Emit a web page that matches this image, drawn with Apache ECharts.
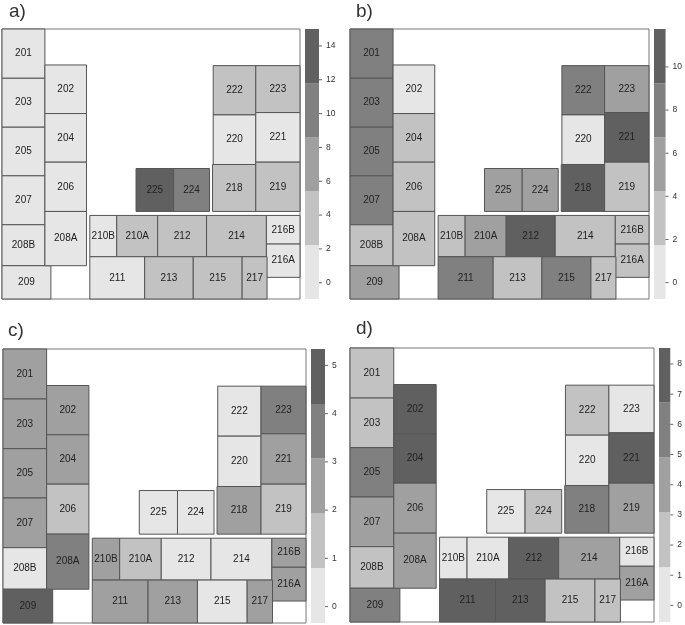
<!DOCTYPE html>
<html>
<head>
<meta charset="utf-8">
<style>
  html, body { margin: 0; padding: 0; background: #fff; }
  #myChart { width: 685px; height: 625px; }
</style>
<script src="https://cdn.jsdelivr.net/npm/echarts@6/dist/echarts.min.js"></script>
</head>
<body>
<div id="myChart"></div>
<script>
// room names and their footprints on the floor plan [x0, y0, x1, y1]
const roomNames = ['201', '203', '205', '207', '208B', '209', '202', '204', '206', '208A',
  '222', '223', '220', '221', '218', '219', '225', '224',
  '210B', '210A', '212', '214', '216B', '216A', '211', '213', '215', '217']
const roomFootprints = [
  [0, 0, 129, 148], [0, 148, 129, 295], [0, 295, 129, 441], [0, 441, 129, 588],
  [0, 588, 129, 711], [0, 711, 147, 811], [129, 108, 254, 254], [129, 254, 254, 400],
  [129, 400, 254, 548], [129, 548, 254, 711],
  [635, 110, 763, 258], [763, 110, 896, 251], [635, 258, 763, 407], [763, 251, 896, 400],
  [633, 407, 763, 548], [763, 400, 896, 548], [403, 419, 516, 548], [516, 419, 624, 548],
  [264, 560, 345, 684], [345, 560, 468, 684], [468, 560, 615, 684], [615, 560, 795, 684],
  [795, 560, 896, 646], [795, 646, 896, 746],
  [264, 684, 429, 811], [429, 684, 575, 811], [575, 684, 722, 811], [722, 684, 797, 811]
]
const planWidth = 896
const planHeight = 811

const panelNames = ['a)', 'b)', 'c)', 'd)']
const valuesA = [1, 1, 1, 1, 1, 1, 1, 1, 1, 1, 4, 4, 1, 1, 4, 4, 14, 10, 1, 4, 4, 4, 1, 1, 1, 4, 4, 4]
const valuesB = [8, 8, 8, 8, 3, 6, 1, 3, 3, 3, 8, 6, 1, 10, 10, 3, 6, 6, 3, 6, 10, 3, 3, 3, 8, 3, 8, 3]
const valuesC = [2, 2, 2, 2, 0, 5, 2, 2, 1, 4, 0, 4, 0, 2, 2, 1, 0, 0, 2, 1, 0, 0, 2, 2, 2, 2, 0, 2]
const valuesD = [2, 2, 6, 4, 2, 6, 8, 8, 4, 4, 2, 1, 1, 8, 6, 4, 1, 2, 1, 1, 8, 4, 1, 4, 8, 8, 2, 2]
const panelValues = [valuesA, valuesB, valuesC, valuesD]

// colour key: class limits and tick labels for each panel
const breaksA = [-0.96, 2.23, 5.42, 8.61, 11.8, 15]
const breaksB = [-0.76, 1.74, 4.24, 6.74, 9.24, 11.76]
const breaksC = [-0.34, 0.8, 1.93, 3.07, 4.2, 5.34]
const breaksD = [-0.55, 1.27, 3.08, 4.9, 6.72, 8.53]
const panelBreaks = [breaksA, breaksB, breaksC, breaksD]
const ticksA = [0, 2, 4, 6, 8, 10, 12, 14]
const ticksB = [0, 2, 4, 6, 8, 10]
const ticksC = [0, 1, 2, 3, 4, 5]
const ticksD = [0, 1, 2, 3, 4, 5, 6, 7, 8]
const panelTicks = [ticksA, ticksB, ticksC, ticksD]
const greys = ['#e6e6e6', '#c2c2c2', '#a0a0a0', '#808080', '#606060']

// pixel boxes of the four panels
const planBoxes = [
  { left: 2, top: 29, width: 298, height: 270 },
  { left: 350, top: 29, width: 299, height: 270 },
  { left: 3, top: 349, width: 303, height: 274 },
  { left: 350, top: 348, width: 304, height: 274 }
]
const keyLefts = [305, 654, 311, 659]
const titleSpots = [[9, 2], [356, 2], [8, 321], [356, 319]]
const FONT = '"Liberation Sans", Arial, sans-serif'

function colorOf(value, breaks) {
  for (let i = 1; i < breaks.length; i++) {
    if (value <= breaks[i]) return greys[i - 1]
  }
  return greys[greys.length - 1]
}

const grid = []
const xAxis = []
const yAxis = []
const series = []
const title = []

panelNames.forEach(function (name, p) {
  const box = planBoxes[p]
  const breaks = panelBreaks[p]
  title.push({
    text: name,
    left: titleSpots[p][0],
    top: titleSpots[p][1],
    padding: 0,
    textStyle: { fontFamily: FONT, fontSize: 19, fontWeight: 'normal', color: '#333' }
  })

  // floor plan
  grid.push({ left: box.left, top: box.top, width: box.width, height: box.height, show: true, backgroundColor: '#fff', borderColor: '#777', borderWidth: 1 })
  xAxis.push({ type: 'value', gridIndex: p * 2, min: 0, max: planWidth, show: false })
  yAxis.push({ type: 'value', gridIndex: p * 2, min: 0, max: planHeight, inverse: true, show: false })
  series.push({
    type: 'custom',
    xAxisIndex: p * 2,
    yAxisIndex: p * 2,
    animation: false,
    silent: true,
    data: roomNames.map(function (room, i) {
      return roomFootprints[i].concat(panelValues[p][i])
    }),
    encode: { x: [0, 2], y: [1, 3] },
    renderItem: function (params, api) {
      const a = api.coord([api.value(0), api.value(1)])
      const b = api.coord([api.value(2), api.value(3)])
      return {
        type: 'group',
        children: [
          {
            type: 'rect',
            shape: { x: a[0], y: a[1], width: b[0] - a[0], height: b[1] - a[1] },
            style: { fill: colorOf(api.value(4), breaks), stroke: '#555', lineWidth: 1 }
          },
          {
            type: 'text',
            style: {
              x: (a[0] + b[0]) / 2,
              y: (a[1] + b[1]) / 2,
              text: roomNames[params.dataIndex],
              align: 'center',
              verticalAlign: 'middle',
              font: '10px ' + FONT,
              fill: '#222'
            }
          }
        ]
      }
    }
  })

  // colour key
  grid.push({ left: keyLefts[p], top: box.top, width: 14, height: box.height, show: false })
  xAxis.push({ type: 'value', gridIndex: p * 2 + 1, min: 0, max: 1, show: false })
  yAxis.push({
    type: 'value',
    gridIndex: p * 2 + 1,
    position: 'right',
    min: breaks[0],
    max: breaks[breaks.length - 1],
    splitLine: { show: false },
    axisLine: { show: false },
    axisTick: { show: false },
    axisLabel: { fontFamily: FONT, fontSize: 8.5, color: '#333', margin: 7, customValues: panelTicks[p] }
  })
  series.push({
    type: 'custom',
    xAxisIndex: p * 2 + 1,
    yAxisIndex: p * 2 + 1,
    animation: false,
    silent: true,
    data: greys.map(function (g, i) {
      return [breaks[i], breaks[i + 1], i]
    }),
    encode: { y: [0, 1] },
    renderItem: function (params, api) {
      const a = api.coord([0, api.value(1)])
      const b = api.coord([1, api.value(0)])
      return {
        type: 'rect',
        shape: { x: a[0], y: a[1], width: b[0] - a[0], height: b[1] - a[1] },
        style: { fill: greys[api.value(2)] }
      }
    }
  })
  // key ticks, drawn on the key's scale
  series.push({
    type: 'custom',
    xAxisIndex: p * 2 + 1,
    yAxisIndex: p * 2 + 1,
    animation: false,
    silent: true,
    clip: false,
    data: panelTicks[p].map(function (t) { return [t] }),
    encode: { y: 0 },
    renderItem: function (params, api) {
      const a = api.coord([1, api.value(0)])
      return {
        type: 'line',
        shape: { x1: a[0], y1: a[1], x2: a[0] + 3, y2: a[1] },
        style: { stroke: '#666', lineWidth: 1 }
      }
    }
  })
})

const myChart = echarts.init(document.getElementById('myChart'))
myChart.setOption({
  backgroundColor: '#fff',
  animation: false,
  title: title,
  grid: grid,
  xAxis: xAxis,
  yAxis: yAxis,
  series: series
})
</script>
</body>
</html>
